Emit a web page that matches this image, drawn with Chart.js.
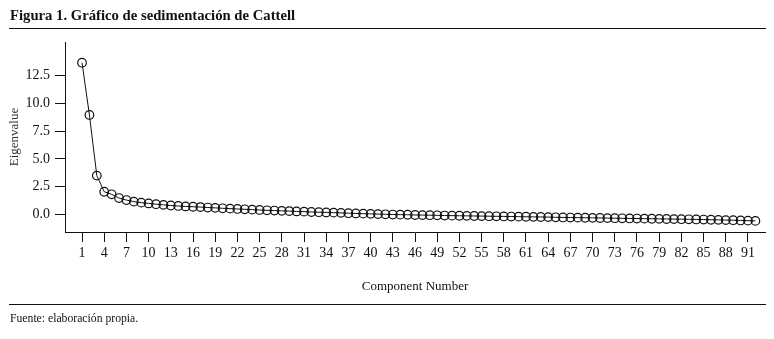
<!DOCTYPE html>
<html>
<head>
<meta charset="utf-8">
<script src="https://cdn.jsdelivr.net/npm/chart.js@4"></script>
<style>
  html, body { margin: 0; padding: 0; background: #fff; }
  body { width: 774px; height: 339px; position: relative; overflow: hidden; font-family: "Liberation Serif", "DejaVu Serif", serif; color: #111; }
  #wrap { position: absolute; left: 0; top: 0; width: 774px; height: 339px; }
  .title { position: absolute; left: 10px; top: 6px; font-size: 14.7px; line-height: 18px; font-weight: bold; white-space: nowrap; }
  .rule { position: absolute; left: 9px; width: 757px; height: 1.5px; background: #111; }
  .note { position: absolute; left: 10px; top: 312px; font-size: 11.7px; line-height: 14px; white-space: nowrap; }
</style>
</head>
<body>
<div id="wrap"><canvas id="c" width="774" height="339"></canvas></div>
<div class="title">Figura 1. Gráfico de sedimentación de Cattell</div>
<div class="rule" style="top:27.5px"></div>
<div class="rule" style="top:303.5px"></div>
<div class="note">Fuente: elaboración propia.</div>
<script>
const titleText = "Figura 1. Gráfico de sedimentación de Cattell";
const xAxisTitle = "Component Number";
const yAxisTitle = "Eigenvalue";

// Eigenvalues for components 1..92
const eigenvalues = [
  13.65, 8.95, 3.50, 2.05, 1.82, 1.48, 1.30, 1.16, 1.07, 1.00,
  0.93, 0.87, 0.81, 0.77, 0.73, 0.70, 0.67, 0.63, 0.60, 0.56,
  0.53, 0.50, 0.47, 0.44, 0.41, 0.38, 0.36, 0.33, 0.31, 0.28,
  0.26, 0.23, 0.21, 0.19, 0.17, 0.15, 0.12, 0.10, 0.08, 0.06,
  0.04, 0.02, 0.00, -0.01, -0.02, -0.04, -0.05, -0.06, -0.07, -0.09,
  -0.10, -0.11, -0.12, -0.13, -0.14, -0.15, -0.16, -0.17, -0.18, -0.19,
  -0.20, -0.21, -0.22, -0.23, -0.25, -0.26, -0.27, -0.28, -0.29, -0.30,
  -0.31, -0.32, -0.33, -0.34, -0.35, -0.36, -0.37, -0.38, -0.39, -0.40,
  -0.41, -0.42, -0.43, -0.44, -0.45, -0.47, -0.48, -0.50, -0.51, -0.53,
  -0.55, -0.57
];

const xTickValues = [1,4,7,10,13,16,19,22,25,28,31,34,37,40,43,46,49,52,55,58,61,64,67,70,73,76,79,82,85,88,91];
const yTickValues = [0, 2.5, 5, 7.5, 10, 12.5];

const points = eigenvalues.map((v, i) => ({ x: i + 1, y: v }));

const serif = "'Liberation Serif', 'DejaVu Serif', serif";
const ink = '#111';

new Chart(document.getElementById('c'), {
  type: 'scatter',
  data: {
    datasets: [{
      data: points,
      showLine: true,
      borderColor: ink,
      borderWidth: 1,
      pointRadius: 4.3,
      pointBorderWidth: 1.2,
      pointBorderColor: ink,
      pointBackgroundColor: 'rgba(0,0,0,0)',
      tension: 0
    }]
  },
  options: {
    responsive: false,
    animation: false,
    devicePixelRatio: 1,
    layout: { padding: { top: 42, right: 9, left: 0, bottom: 0 } },
    plugins: { legend: { display: false }, tooltip: { enabled: false }, title: { display: false } },
    scales: {
      x: {
        type: 'linear',
        min: -1.3,
        max: 93.3,
        afterBuildTicks: s => { s.ticks = xTickValues.map(v => ({ value: v })); },
        afterFit: s => { s.height = 107; },
        ticks: { color: ink, font: { family: serif, size: 14 }, padding: 3, maxRotation: 0, autoSkip: false, callback: v => String(v) },
        grid: { display: true, drawOnChartArea: false, drawTicks: true, tickLength: 10, color: ink, lineWidth: 1 },
        border: { display: true, color: ink, width: 1 },
        title: { display: true, text: xAxisTitle, color: ink, font: { family: serif, size: 13 }, padding: { top: 0, bottom: 45 } }
      },
      y: {
        type: 'linear',
        min: -1.57,
        max: 15.51,
        afterBuildTicks: s => { s.ticks = yTickValues.map(v => ({ value: v })); },
        afterFit: s => { s.width = 65; },
        ticks: { color: ink, font: { family: serif, size: 14 }, padding: 5, callback: v => Number(v).toFixed(1) },
        grid: { display: true, drawOnChartArea: false, drawTicks: true, tickLength: 10, color: ink, lineWidth: 1 },
        border: { display: true, color: ink, width: 1 },
        title: { display: true, text: yAxisTitle, color: '#333', font: { family: serif, size: 13 }, padding: { top: 7, bottom: 0 } }
      }
    }
  }
});
</script>
</body>
</html>
